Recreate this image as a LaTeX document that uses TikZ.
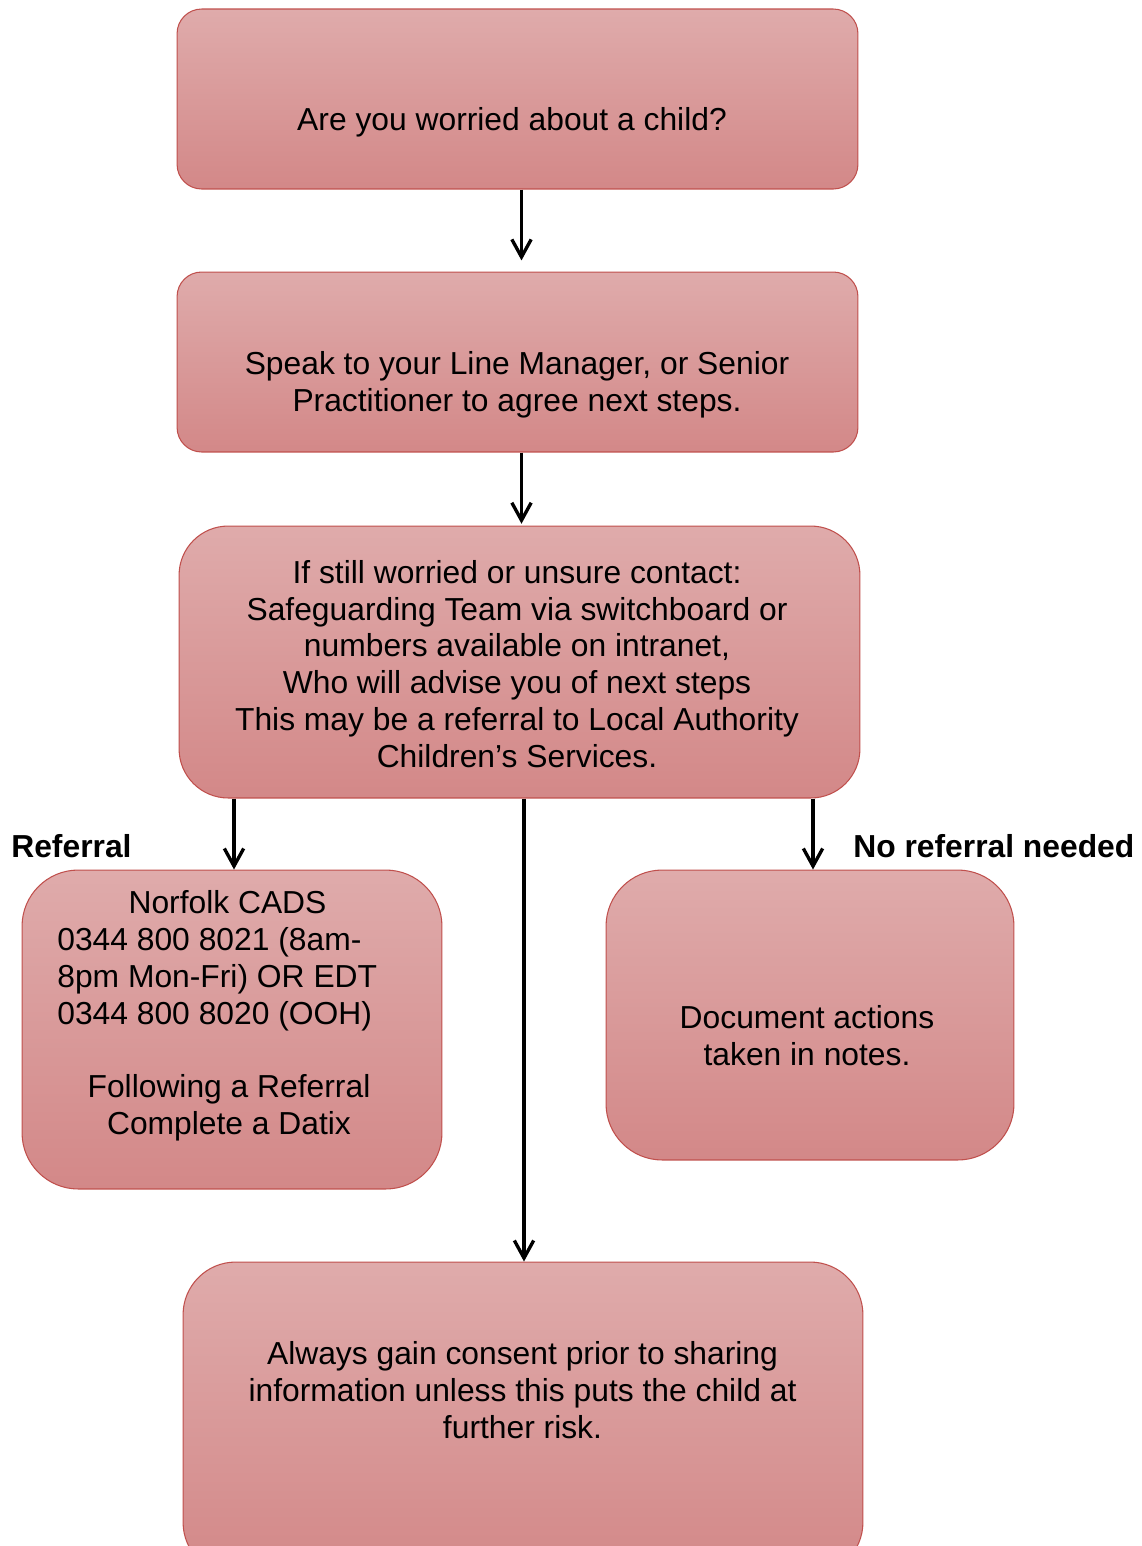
\documentclass[tikz,border=0pt]{standalone}
\usepackage{fontspec}
\setmainfont{Liberation Sans}
\usepackage{tikz}
\usetikzlibrary{positioning,calc,arrows.meta}
\definecolor{boxtop}{HTML}{DFABAB}
\definecolor{boxbot}{HTML}{D38888}
\definecolor{boxline}{HTML}{C0504D}

\begin{document}
\begin{tikzpicture}[x=0.02cm, y=-0.02cm,
    box/.style={draw=boxline, line width=0.6pt, top color=boxtop, bottom color=boxbot, rounded corners=#1, inner sep=0pt},
    box/.default=14pt,
    txt/.style={font=\fontsize{18.1}{20.9}\selectfont, inner sep=0pt, anchor=base},
    lbl/.style={font=\fontsize{18.1}{20.9}\selectfont\bfseries, inner sep=0pt, anchor=base west},
    link/.style={line width=1.9pt, -{Straight Barb[length=10pt, width=11pt]}}]
    \useasboundingbox (0,0) rectangle (1142,1546);

    % Boxes
    \node[box=14pt, minimum width=13.62cm, minimum height=3.6cm] (worry) at (517.5,99) {};
    \node[box=14pt, minimum width=13.62cm, minimum height=3.6cm] (speak) at (517.5,362) {};
    \node[box=28pt, minimum width=13.62cm, minimum height=5.44cm] (contact) at (519.5,662) {};
    \node[box=32pt, minimum width=8.4cm, minimum height=6.38cm] (cads) at (232,1029.5) {};
    \node[box=32pt, minimum width=8.16cm, minimum height=5.8cm] (notes) at (810,1015) {};
    \node[box=30pt, minimum width=13.6cm, minimum height=6.26cm] (consent) at (523,1418.5) {};

    % Box texts (multi-line ones sit on their last baseline)
    \node[txt] (worryT) at (512,130) {Are you worried about a child?};
    \node[txt, align=center] (speakT) at (517,411) {Speak to your Line Manager, or Senior\\Practitioner to agree next steps.};
    \node[txt, align=center] (contactT) at (517,767) {If still worried or unsure contact:\\Safeguarding Team via switchboard or\\numbers available on intranet,\\Who will advise you of next steps\\This may be a referral to Local Authority\\Children’s Services.};
    \node[txt] (cadsT) at (227.5,913) {Norfolk CADS};
    \node[txt, anchor=base west, align=left] (cadsN) at (57,1024) {0344 800 8021 (8am-\\8pm Mon-Fri) OR EDT\\0344 800 8020 (OOH)};
    \node[txt, align=center] (cadsD) at (229,1134) {Following a Referral\\Complete a Datix};
    \node[txt, align=center] (notesT) at (807,1065) {Document actions\\taken in notes.};
    \node[txt, align=center] (consentT) at (522.5,1438) {Always gain consent prior to sharing\\information unless this puts the child at\\further risk.};

    % Arrows
    \draw[link, shorten >=6.3pt] ($(worry.south)+(4,0)$) -- ($(speak.north)+(4,0)$);
    \draw[link, shorten >=1pt] ($(speak.south)+(4,0)$) -- ($(contact.north)+(2,0)$);
    \draw[link] ($(cads.north |- contact.south)+(2,0)$) -- ($(cads.north)+(2,0)$);
    \draw[link] ($(notes.north |- contact.south)+(3,0)$) -- ($(notes.north)+(3,0)$);
    \draw[link] ($(consent.north |- contact.south)+(1,0)$) -- ($(consent.north)+(1,0)$);

    % Labels
    \node[lbl] (refL) at (11,857) {Referral};
    \node[lbl] (norefL) at (853,857) {No referral needed};
\end{tikzpicture}
\end{document}
